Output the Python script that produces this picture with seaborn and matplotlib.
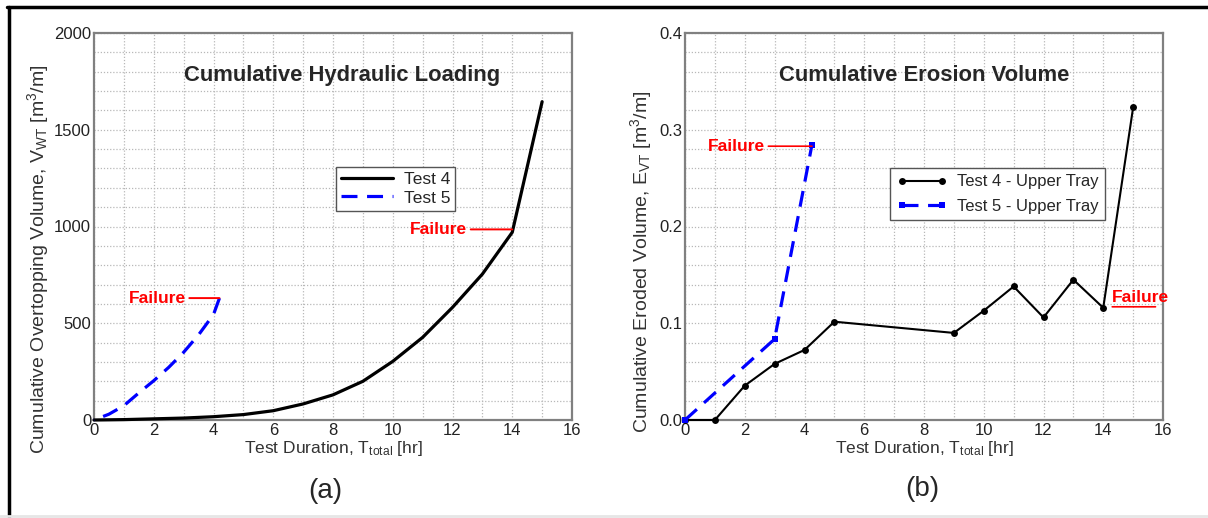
import numpy as np
import pandas as pd
import matplotlib
matplotlib.use("Agg")
import matplotlib.pyplot as plt
from matplotlib.ticker import MultipleLocator
import seaborn as sns

# ---------------- data ----------------
t4_hyd_hr = [0, 1, 2, 3, 4, 5, 6, 7, 8, 9, 10, 11, 12, 13, 14, 15]
t4_hyd_vol = [0, 2, 6, 10, 17, 28, 48, 83, 130, 200, 303, 427, 582, 754, 970, 1645]
t5_hyd_hr = [0, 0.5, 1, 1.5, 2, 2.5, 3, 3.5, 4, 4.2]
t5_hyd_vol = [0, 30, 74, 140, 203, 272, 350, 440, 545, 630]

t4_ero_hr = [0, 1, 2, 3, 4, 5, 9, 10, 11, 12, 13, 14, 15]
t4_ero_vol = [0, 0, 0.0355, 0.058, 0.0724, 0.1016, 0.090, 0.113, 0.138, 0.106, 0.145, 0.116, 0.323]
t5_ero_hr = [0, 3, 4.25]
t5_ero_vol = [0, 0.0837, 0.2846]

x_ticks = [0, 2, 4, 6, 8, 10, 12, 14, 16]
y_ticks_a = [0, 500, 1000, 1500, 2000]
y_ticks_b = [0.0, 0.1, 0.2, 0.3, 0.4]
y_ticklabels_b = ["0.0", "0.1", "0.2", "0.3", "0.4"]

# ---------------- style ----------------
sns.set_theme(style="white")
plt.rcParams["font.family"] = ["Liberation Sans", "DejaVu Sans"]
plt.rcParams["mathtext.fontset"] = "custom"
plt.rcParams["mathtext.rm"] = "Liberation Sans"
plt.rcParams["mathtext.it"] = "Liberation Sans"
plt.rcParams["mathtext.default"] = "regular"

fig = plt.figure(figsize=(12.08, 5.18), dpi=100)
ax1 = fig.add_axes([94/1208, 1-420/518, 478/1208, 387/518])
ax2 = fig.add_axes([685/1208, 1-420/518, 478/1208, 387/518])

blue = "#0000ff"
red = "#ff0000"
frame_c = "#808080"
grid_c = "#b8b8b8"

def style_axes(ax, ymax, ystep_minor, yticks, ylabels=None):
    ax.set_xlim(0, 16)
    ax.set_ylim(0, ymax)
    ax.set_xticks(x_ticks)
    ax.set_yticks(yticks)
    if ylabels is not None:
        ax.set_yticklabels(ylabels)
    ax.xaxis.set_minor_locator(MultipleLocator(1))
    ax.yaxis.set_minor_locator(MultipleLocator(ystep_minor))
    ax.grid(True, which="both", color=grid_c, linestyle=(0, (1, 1.5)), linewidth=0.9)
    ax.set_axisbelow(True)
    for s in ax.spines.values():
        s.set_color(frame_c)
        s.set_linewidth(1.6)
        s.set_zorder(1.5)
    ax.tick_params(axis="both", which="major", direction="in", length=0,
                   labelsize=12, pad=2, colors="#222222")
    ax.tick_params(axis="both", which="minor", length=0)
    ax.set_xlabel("Test Duration, T$_{total}$ [hr]", fontsize=12.5, color="#333333", labelpad=1)
    for ln in ax.lines:
        ln.set_clip_on(False)
        ln.set_zorder(3)

# ---------------- panel (a) ----------------
df4a = pd.DataFrame({"hr": t4_hyd_hr, "vol": t4_hyd_vol})
df5a = pd.DataFrame({"hr": t5_hyd_hr, "vol": t5_hyd_vol}).iloc[::-1]
sns.lineplot(data=df4a, x="hr", y="vol", ax=ax1, color="black", linewidth=2.3,
             label="Test 4", sort=False, estimator=None)
sns.lineplot(data=df5a, x="hr", y="vol", ax=ax1, color=blue, linewidth=2.3,
             linestyle="--", label="Test 5", sort=False, estimator=None)
ax1.lines[1].set_dashes((5, 3))
style_axes(ax1, 2000, 100, y_ticks_a)
ax1.set_ylabel("Cumulative Overtopping Volume, V$_{WT}$ [m$^3$/m]", fontsize=14,
               color="#333333")
ax1.yaxis.set_label_coords(-0.09, 0.416)
ax1.set_title("Cumulative Hydraulic Loading", fontsize=15.8, fontweight="bold",
              y=0.855, x=0.52)
leg1 = ax1.legend(loc="upper left", bbox_to_anchor=(0.506, 0.655), fontsize=12.5,
                  frameon=True, fancybox=False, edgecolor="#555555", framealpha=1,
                  handlelength=3.0, borderpad=0.3, labelspacing=0.2, handletextpad=0.6,
                  borderaxespad=0)
leg1.get_frame().set_linewidth(1.0)

ax1.annotate("Failure", xy=(t5_hyd_hr[-1], t5_hyd_vol[-1]), xytext=(3.08, t5_hyd_vol[-1]),
             ha="right", va="center", color=red, fontsize=12.5, fontweight="bold",
             arrowprops=dict(arrowstyle="-", color=red, lw=1.4, shrinkA=0, shrinkB=0))
ax1.annotate("Failure", xy=(t4_hyd_hr[-2], t4_hyd_vol[-2] + 15), xytext=(12.5, t4_hyd_vol[-2] + 15),
             ha="right", va="center", color=red, fontsize=12.5, fontweight="bold",
             arrowprops=dict(arrowstyle="-", color=red, lw=1.4, shrinkA=0, shrinkB=0))

# ---------------- panel (b) ----------------
df4b = pd.DataFrame({"hr": t4_ero_hr, "vol": t4_ero_vol})
df5b = pd.DataFrame({"hr": t5_ero_hr, "vol": t5_ero_vol})
sns.lineplot(data=df4b, x="hr", y="vol", ax=ax2, color="black", linewidth=1.5,
             marker="o", markersize=5, markeredgewidth=0, label="Test 4 - Upper Tray",
             sort=False, estimator=None)
sns.lineplot(data=df5b, x="hr", y="vol", ax=ax2, color=blue, linewidth=2.3,
             linestyle="--", marker="s", markersize=5, markeredgewidth=0,
             label="Test 5 - Upper Tray", sort=False, estimator=None)
ax2.lines[1].set_dashes((5, 3))
style_axes(ax2, 0.4, 0.02, y_ticks_b, y_ticklabels_b)
ax2.set_ylabel("Cumulative Eroded Volume, E$_{VT}$ [m$^3$/m]", fontsize=14,
               color="#333333")
ax2.yaxis.set_label_coords(-0.064, 0.408)
ax2.set_title("Cumulative Erosion Volume", fontsize=15.8, fontweight="bold",
              y=0.855, x=0.5)
leg2 = ax2.legend(loc="upper left", bbox_to_anchor=(0.429, 0.652), fontsize=12,
                  frameon=True, fancybox=False, edgecolor="#555555", framealpha=1,
                  handlelength=3.0, borderpad=0.4, labelspacing=0.55, handletextpad=0.6,
                  borderaxespad=0, numpoints=2)
leg2.get_frame().set_linewidth(1.0)

ax2.annotate("Failure", xy=(t5_ero_hr[-1], 0.283), xytext=(2.68, 0.283),
             ha="right", va="center", color=red, fontsize=12.5, fontweight="bold",
             arrowprops=dict(arrowstyle="-", color=red, lw=1.2, shrinkA=0, shrinkB=0))
ax2.annotate("", xy=(14.3, 0.117), xytext=(15.75, 0.117),
             arrowprops=dict(arrowstyle="-", color=red, lw=1.2, shrinkA=0, shrinkB=0))
ax2.text(14.3, 0.119, "Failure", ha="left", va="bottom", color=red, fontsize=12.5,
         fontweight="bold")

# ---------------- panel captions and border ----------------
fig.text(325/1208, 1-491/518, "(a)", ha="center", va="center", fontsize=20)
fig.text(922/1208, 1-489/518, "(b)", ha="center", va="center", fontsize=20)
fig.add_artist(plt.Line2D([7/1208, 1], [1-7/518, 1-7/518], color="black", lw=2.5,
                          transform=fig.transFigure))
fig.add_artist(plt.Line2D([9/1208, 9/1208], [0, 1-7/518], color="black", lw=2.5,
                          transform=fig.transFigure))
fig.add_artist(plt.Line2D([0, 1], [2/518, 2/518], color="#e6e6e6", lw=2,
                          transform=fig.transFigure))

fig.savefig("out.png", dpi=100)
